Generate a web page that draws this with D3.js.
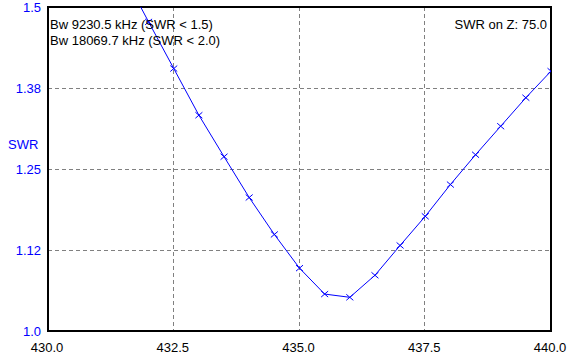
<!DOCTYPE html>
<html>
<head>
<meta charset="utf-8">
<script src="https://cdn.jsdelivr.net/npm/d3@7"></script>
<style>
  body { margin: 0; background: #fff; }
  text { font-family: "Liberation Sans", Arial, sans-serif; font-size: 13px; }
</style>
</head>
<body>
<script>
const freqs = [431.5, 432.0, 432.5, 433.0, 433.5, 434.0, 434.5, 435.0, 435.5,
               436.0, 436.5, 437.0, 437.5, 438.0, 438.5, 439.0, 439.5, 440.0];
const swr = [1.55, 1.477, 1.405, 1.333, 1.269, 1.206, 1.149, 1.097, 1.057,
             1.052, 1.086, 1.132, 1.177, 1.226, 1.272, 1.316, 1.360, 1.401];
const xTicks = [430.0, 432.5, 435.0, 437.5, 440.0];
const yTicks = [1.0, 1.125, 1.25, 1.375, 1.5];
const yTickLabels = ["1.0", "1.12", "1.25", "1.38", "1.5"];
const infoLines = ["Bw 9230.5 kHz (SWR < 1.5)", "Bw 18069.7 kHz (SWR < 2.0)"];
const zLabel = "SWR on Z: 75.0";

const chartWidth = 587, chartHeight = 356;
const plotLeft = 48, plotRight = 551, plotTop = 7, plotBottom = 331;

const svg = d3.select("body").append("svg")
    .attr("width", chartWidth)
    .attr("height", chartHeight);

const x = d3.scaleLinear().domain([430, 440]).range([plotLeft, plotRight]);
const y = d3.scaleLinear().domain([1.0, 1.5]).range([plotBottom, plotTop]);

svg.append("clipPath").attr("id", "plot")
  .append("rect")
    .attr("x", plotLeft).attr("y", plotTop)
    .attr("width", plotRight - plotLeft).attr("height", plotBottom - plotTop);

// dashed grid, snapped to whole pixels
svg.append("g")
  .selectAll("line")
  .data(xTicks.slice(1, -1))
  .enter().append("line")
    .attr("x1", d => Math.round(x(d)) - 0.5).attr("x2", d => Math.round(x(d)) - 0.5)
    .attr("y1", plotTop).attr("y2", plotBottom)
    .attr("stroke", "#808080")
    .attr("stroke-dasharray", "4,3")
    .attr("shape-rendering", "crispEdges");

svg.append("g")
  .selectAll("line")
  .data(yTicks.slice(1, -1))
  .enter().append("line")
    .attr("x1", plotLeft).attr("x2", plotRight)
    .attr("y1", d => Math.round(y(d)) + 0.5).attr("y2", d => Math.round(y(d)) + 0.5)
    .attr("stroke", "#808080")
    .attr("stroke-dasharray", "4,3")
    .attr("shape-rendering", "crispEdges");

// frame
svg.append("rect")
    .attr("x", plotLeft).attr("y", plotTop)
    .attr("width", plotRight - plotLeft).attr("height", plotBottom - plotTop)
    .attr("fill", "none")
    .attr("stroke", "#000")
    .attr("stroke-width", 2)
    .attr("shape-rendering", "crispEdges");

// x axis labels
svg.append("g")
  .selectAll("text")
  .data(xTicks)
  .enter().append("text")
    .attr("x", d => x(d) - 1)
    .attr("y", 352)
    .attr("text-anchor", "middle")
    .attr("fill", "#000")
    .text(d => d.toFixed(1));

// y axis labels
svg.append("g")
  .selectAll("text")
  .data(yTicks)
  .enter().append("text")
    .attr("x", 41)
    .attr("y", d => y(d) + 4.5)
    .attr("text-anchor", "end")
    .attr("fill", "#0000ff")
    .text((d, i) => yTickLabels[i]);

svg.append("text")
    .attr("x", 8).attr("y", 149)
    .attr("fill", "#0000ff")
    .text("SWR");

// SWR curve
const data = freqs.map((f, i) => ({f: f, s: swr[i]}));
const line = d3.line()
    .x(d => x(d.f))
    .y(d => y(d.s));

const g = svg.append("g").attr("clip-path", "url(#plot)");

g.append("path")
    .datum(data)
    .attr("fill", "none")
    .attr("stroke", "#0000ff")
    .attr("stroke-width", 1)
    .attr("d", line);

// x markers on each point
g.selectAll(".mark")
  .data(data)
  .enter().append("path")
    .attr("class", "mark")
    .attr("fill", "none")
    .attr("stroke", "#0000ff")
    .attr("stroke-width", 1)
    .attr("d", d => {
      const cx = x(d.f), cy = y(d.s);
      return "M" + (cx - 3.5) + "," + (cy - 3) + "L" + (cx + 3.5) + "," + (cy + 3) +
             "M" + (cx - 3.5) + "," + (cy + 3) + "L" + (cx + 3.5) + "," + (cy - 3);
    });

// info text
svg.append("g")
  .selectAll("text")
  .data(infoLines)
  .enter().append("text")
    .attr("x", 50)
    .attr("y", (d, i) => 28.5 + i * 16)
    .attr("fill", "#000")
    .text(d => d);

svg.append("text")
    .attr("x", 547).attr("y", 28.5)
    .attr("text-anchor", "end")
    .attr("fill", "#000")
    .text(zLabel);
</script>
</body>
</html>
